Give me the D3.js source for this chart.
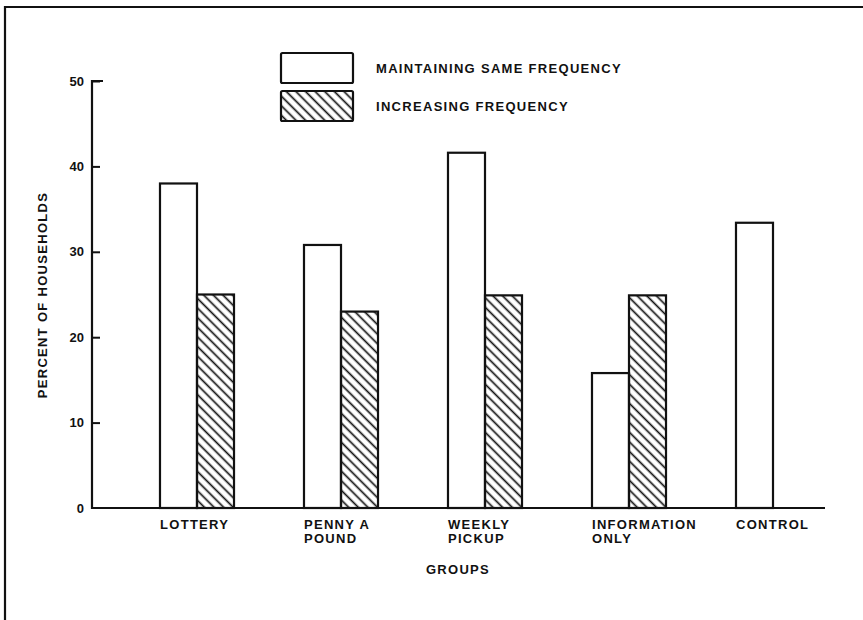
<!DOCTYPE html>
<html>
<head>
<meta charset="utf-8">
<script src="https://cdn.jsdelivr.net/npm/d3@7"></script>
<style>
  body { margin: 0; background: #fff; }
  text { font-family: "Liberation Sans", Arial, sans-serif; font-weight: bold; font-size: 13px; fill: #111; letter-spacing: 1.3px; }
</style>
</head>
<body>
<svg id="chart"></svg>
<script>
// groups along the x axis (line breaks as printed)
const groups = ["LOTTERY", "PENNY A POUND", "WEEKLY PICKUP", "INFORMATION ONLY", "CONTROL"];
const groupLines = [["LOTTERY"], ["PENNY A", "POUND"], ["WEEKLY", "PICKUP"], ["INFORMATION", "ONLY"], ["CONTROL"]];

// percent of households
const maintaining = [38, 30.8, 41.6, 15.8, 33.4];
const increasing = [25, 23, 24.9, 24.9, null]; // control has no increasing bar

const seriesNames = ["MAINTAINING SAME FREQUENCY", "INCREASING FREQUENCY"];
const yTicks = [0, 10, 20, 30, 40, 50];

const WIDTH = 863;
const HEIGHT = 620;

const svg = d3.select("#chart").attr("width", WIDTH).attr("height", HEIGHT);

// hatch pattern for the "increasing" bars
svg.append("defs")
  .append("pattern")
  .attr("id", "hatch")
  .attr("patternUnits", "userSpaceOnUse")
  .attr("width", 6.8)
  .attr("height", 6.8)
  .attr("patternTransform", "rotate(-45)")
  .append("line")
  .attr("x1", 3.4).attr("y1", 0)
  .attr("x2", 3.4).attr("y2", 6.8)
  .attr("stroke", "#111")
  .attr("stroke-width", 1.7);

// frame: top and left border of the scanned page
svg.append("path")
  .attr("d", `M5,${HEIGHT} L5,7 L${WIDTH},7`)
  .attr("fill", "none")
  .attr("stroke", "#111")
  .attr("stroke-width", 2.2);

const x = d3.scaleBand().domain(groups).range([125, 845]).paddingInner(0.486).paddingOuter(0.243);
const xInner = d3.scaleBand().domain(seriesNames).range([0, x.bandwidth()]);
const y = d3.scaleLinear().domain([0, 50]).range([508, 81]);

const AXIS_X = 92;
const AXIS_END = 825;

// y axis, ticks point inward
const yAxis = svg.append("g")
  .attr("transform", `translate(${AXIS_X},0)`)
  .call(d3.axisLeft(y).tickValues(yTicks).tickSizeInner(-8).tickSizeOuter(0).tickPadding(8));
yAxis.select(".domain").remove();
yAxis.selectAll("line").attr("stroke", "#111").attr("stroke-width", 2);
yAxis.selectAll("text")
  .attr("font-family", null)
  .attr("font-size", null)
  .attr("fill", null)
  .style("letter-spacing", "0px");
yAxis.selectAll(".tick").filter((d) => d === 0).select("line").remove();

// axis lines (hook at the top of the y axis)
svg.append("path")
  .attr("d", `M${AXIS_X + 11},${y(50)} L${AXIS_X},${y(50)} L${AXIS_X},${y(0)} L${AXIS_END},${y(0)}`)
  .attr("fill", "none")
  .attr("stroke", "#111")
  .attr("stroke-width", 2.2);

// bars
const bars = [];
groups.forEach((g, i) => {
  bars.push({ group: g, series: seriesNames[0], value: maintaining[i] });
  if (increasing[i] != null) bars.push({ group: g, series: seriesNames[1], value: increasing[i] });
});

svg.append("g")
  .selectAll("rect")
  .data(bars)
  .enter()
  .append("rect")
  .attr("x", (d) => x(d.group) + xInner(d.series))
  .attr("y", (d) => y(d.value))
  .attr("width", xInner.bandwidth())
  .attr("height", (d) => y(0) - y(d.value))
  .attr("fill", (d) => (d.series === seriesNames[1] ? "url(#hatch)" : "#fff"))
  .attr("stroke", "#111")
  .attr("stroke-width", 2.2);

// group labels
const labels = svg.append("g")
  .selectAll("text")
  .data(groups)
  .enter()
  .append("text")
  .attr("x", (d) => x(d))
  .attr("y", y(0) + 21);
labels.selectAll("tspan")
  .data((d, i) => groupLines[i])
  .enter()
  .append("tspan")
  .attr("x", function () { return this.parentNode.getAttribute("x"); })
  .attr("dy", (d, j) => (j === 0 ? 0 : 14))
  .text((d) => d);

// axis titles
svg.append("text")
  .attr("x", 458)
  .attr("y", 574)
  .attr("text-anchor", "middle")
  .text("GROUPS");

svg.append("text")
  .attr("transform", "translate(47,295) rotate(-90)")
  .attr("text-anchor", "middle")
  .text("PERCENT OF HOUSEHOLDS");

// legend
const legend = svg.append("g")
  .selectAll("g")
  .data(seriesNames)
  .enter()
  .append("g")
  .attr("transform", (d, i) => `translate(281,${53 + i * 38})`);
legend.append("rect")
  .attr("width", 72)
  .attr("height", 30)
  .attr("rx", 1.5)
  .attr("fill", (d, i) => (i === 1 ? "url(#hatch)" : "#fff"))
  .attr("stroke", "#111")
  .attr("stroke-width", 2.2);
legend.append("text")
  .attr("x", 95)
  .attr("y", 20)
  .text((d) => d);
</script>
</body>
</html>
